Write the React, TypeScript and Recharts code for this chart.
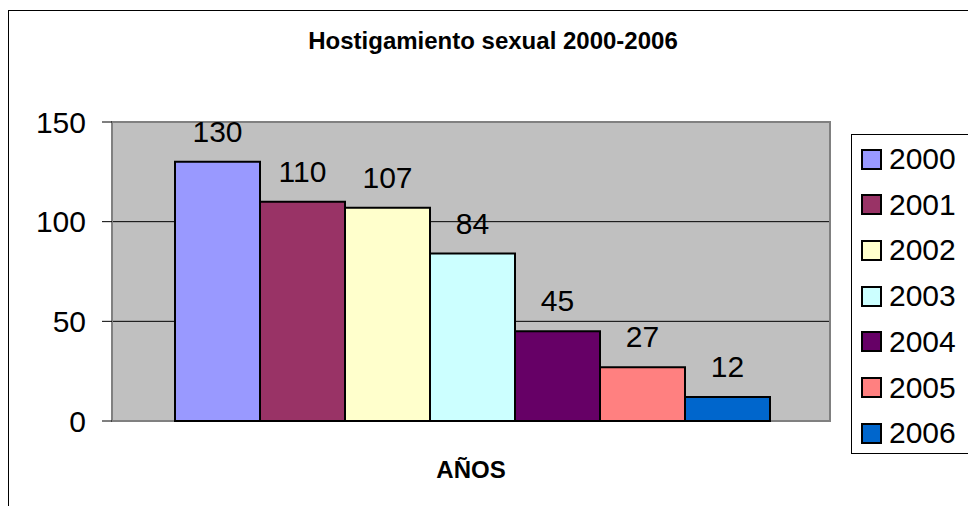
import {
  Bar,
  BarChart,
  CartesianGrid,
  LabelList,
  ReferenceArea,
  XAxis,
  YAxis,
} from "recharts";

const years = ["2000", "2001", "2002", "2003", "2004", "2005", "2006"];
const cases = [130, 110, 107, 84, 45, 27, 12];
const colors = ["#9999FF", "#993366", "#FFFFCC", "#CCFFFF", "#660066", "#FF8080", "#0066CC"];
const yTicks = [0, 50, 100, 150];
const categories = ["AÑOS"];

const FONT = '"Liberation Sans", Arial, Helvetica, sans-serif';

const chartData = categories.map((name) => {
  const row: Record<string, string | number> = { name };
  years.forEach((y, i) => {
    row["y" + y] = cases[i];
  });
  return row;
});

function AxisTitle(props: any) {
  const vb = props.viewBox || {};
  return (
    <text
      x={vb.x + vb.width / 2}
      y={vb.y + 57}
      textAnchor="middle"
      fontFamily={FONT}
      fontWeight="bold"
      fontSize={24}
      fill="#000"
    >
      AÑOS
    </text>
  );
}

export default function App() {
  return (
    <div
      style={{
        position: "absolute",
        left: 0,
        top: 0,
        width: 968,
        height: 506,
        overflow: "hidden",
        background: "#fff",
        fontFamily: FONT,
      }}
    >
      <div
        style={{
          position: "absolute",
          left: 8,
          top: 10,
          width: 1100,
          height: 700,
          border: "1px solid #000",
        }}
      />
      <div
        style={{
          position: "absolute",
          left: 0,
          width: 986,
          top: 26,
          textAlign: "center",
          fontWeight: "bold",
          fontSize: 24,
          lineHeight: "30px",
          color: "#000",
        }}
      >
        Hostigamiento sexual 2000-2006
      </div>

      <div style={{ position: "absolute", left: 0, top: 0 }}>
        <BarChart
          width={968}
          height={506}
          data={chartData}
          margin={{ top: 122, right: 138, bottom: 0, left: 52 }}
          barCategoryGap={63}
          barGap={0}
        >
          <CartesianGrid
            vertical={false}
            horizontalValues={[50, 100]}
            stroke="#000"
            fill="#C0C0C0"
            fillOpacity={1}
          />
          <ReferenceArea
            y1={0}
            y2={150}
            fill="none"
            stroke="#808080"
            strokeWidth={2}
          />
          <XAxis
            dataKey="name"
            height={85}
            tick={false}
            tickLine={false}
            axisLine={false}
            label={<AxisTitle />}
          />
          <YAxis
            width={60}
            domain={[0, 150]}
            ticks={yTicks}
            interval={0}
            tickSize={10}
            tickMargin={16}
            axisLine={false}
            tickLine={{ stroke: "#000" }}
            tick={{ fill: "#000", fontSize: 30, fontFamily: FONT }}
          />
          {years.map((y, i) => (
            <Bar
              key={y}
              dataKey={"y" + y}
              name={y}
              fill={colors[i]}
              stroke="#000"
              strokeWidth={2}
              isAnimationActive={false}
            >
              <LabelList
                dataKey={"y" + y}
                position="top"
                offset={20}
                fill="#000"
                fontSize={30}
                fontFamily={FONT}
              />
            </Bar>
          ))}
        </BarChart>
      </div>

      <div
        style={{
          position: "absolute",
          left: 851,
          top: 134,
          width: 140,
          height: 318,
          border: "1px solid #000",
          background: "#fff",
        }}
      >
        {years.map((y, i) => (
          <div
            key={y}
            style={{
              position: "absolute",
              left: 9,
              top: 10 + i * 45.7,
              height: 28,
              display: "flex",
              alignItems: "center",
            }}
          >
            <span
              style={{
                display: "inline-block",
                width: 17,
                height: 17,
                background: colors[i],
                border: "2px solid #000",
              }}
            />
            <span
              style={{
                marginLeft: 7,
                fontSize: 30,
                lineHeight: "28px",
                color: "#000",
              }}
            >
              {y}
            </span>
          </div>
        ))}
      </div>
    </div>
  );
}
